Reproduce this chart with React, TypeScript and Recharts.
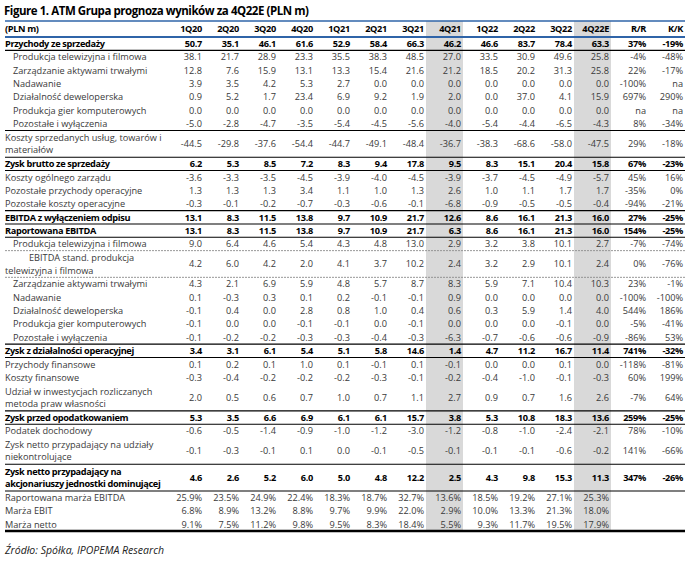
import React from 'react';
import { ScatterChart, XAxis, YAxis, Scatter, ReferenceArea, ReferenceLine } from 'recharts';

// ---------- DATA ----------
const columns = ['1Q20', '2Q20', '3Q20', '4Q20', '1Q21', '2Q21', '3Q21', '4Q21', '1Q22', '2Q22', '3Q22', '4Q22E', 'R/R', 'K/K'];
const highlightColumns = ['4Q21', '4Q22E'];
const quarterCount = 12;

// 12 quarterly values (PLN m), then R/R and K/K changes in % (null = "na")
const przychody = [50.7, 35.1, 46.1, 61.6, 52.9, 58.4, 66.3, 46.2, 46.6, 83.7, 78.4, 63.3, 37, -19];
const revProdukcja = [38.1, 21.7, 28.9, 23.3, 35.5, 38.3, 48.5, 27.0, 33.5, 30.9, 49.6, 25.8, -4, -48];
const revZarzadzanie = [12.8, 7.6, 15.9, 13.1, 13.3, 15.4, 21.6, 21.2, 18.5, 20.2, 31.3, 25.8, 22, -17];
const revNadawanie = [3.9, 3.5, 4.2, 5.3, 2.7, 0.0, 0.0, 0.0, 0.0, 0.0, 0.0, 0.0, -100, null];
const revDeweloperska = [0.9, 5.2, 1.7, 23.4, 6.9, 9.2, 1.9, 2.0, 0.0, 37.0, 4.1, 15.9, 697, 290];
const revGry = [0.0, 0.0, 0.0, 0.0, 0.0, 0.0, 0.0, 0.0, 0.0, 0.0, 0.0, 0.0, null, null];
const revPozostale = [-5.0, -2.8, -4.7, -3.5, -5.4, -4.5, -5.6, -4.0, -5.4, -4.4, -6.5, -4.3, 8, -34];
const kosztySprzedanych = [-44.5, -29.8, -37.6, -54.4, -44.7, -49.1, -48.4, -36.7, -38.3, -68.6, -58.0, -47.5, 29, -18];
const zyskBrutto = [6.2, 5.3, 8.5, 7.2, 8.3, 9.4, 17.8, 9.5, 8.3, 15.1, 20.4, 15.8, 67, -23];
const kosztyZarzadu = [-3.6, -3.3, -3.5, -4.5, -3.9, -4.0, -4.5, -3.9, -3.7, -4.5, -4.9, -5.7, 45, 16];
const pozPrzychodyOp = [1.3, 1.3, 1.3, 3.4, 1.1, 1.0, 1.3, 2.6, 1.0, 1.1, 1.7, 1.7, -35, 0];
const pozKosztyOp = [-0.3, -0.1, -0.2, -0.7, -0.3, -0.6, -0.1, -6.8, -0.9, -0.5, -0.5, -0.4, -94, -21];
const ebitdaBezOdpisu = [13.1, 8.3, 11.5, 13.8, 9.7, 10.9, 21.7, 12.6, 8.6, 16.1, 21.3, 16.0, 27, -25];
const ebitdaRaportowana = [13.1, 8.3, 11.5, 13.8, 9.7, 10.9, 21.7, 6.3, 8.6, 16.1, 21.3, 16.0, 154, -25];
const ebitdaProdukcja = [9.0, 6.4, 4.6, 5.4, 4.3, 4.8, 13.0, 2.9, 3.2, 3.8, 10.1, 2.7, -7, -74];
const ebitdaStand = [4.2, 6.0, 4.2, 2.0, 4.1, 3.7, 10.2, 2.4, 3.2, 2.9, 10.1, 2.4, 0, -76];
const ebitdaZarzadzanie = [4.3, 2.1, 6.9, 5.9, 4.8, 5.7, 8.7, 8.3, 5.9, 7.1, 10.4, 10.3, 23, -1];
const ebitdaNadawanie = [0.1, -0.3, 0.3, 0.1, 0.2, -0.1, -0.1, 0.9, 0.0, 0.0, 0.0, 0.0, -100, -100];
const ebitdaDeweloperska = [-0.1, 0.4, 0.0, 2.8, 0.8, 1.0, 0.4, 0.6, 0.3, 5.9, 1.4, 4.0, 544, 186];
const ebitdaGry = [-0.1, 0.0, 0.0, -0.1, -0.1, 0.0, -0.1, 0.0, 0.0, 0.0, -0.1, 0.0, -5, -41];
const ebitdaPozostale = [-0.1, -0.2, -0.2, -0.3, -0.3, -0.4, -0.3, -6.3, -0.7, -0.6, -0.6, -0.9, -86, 53];
const ebit = [3.4, 3.1, 6.1, 5.4, 5.1, 5.8, 14.6, 1.4, 4.7, 11.2, 16.7, 11.4, 741, -32];
const przychodyFin = [0.1, 0.2, 0.1, 1.0, 0.1, -0.1, 0.1, -0.1, 0.0, 0.0, 0.1, 0.0, -118, -81];
const kosztyFin = [-0.3, -0.4, -0.2, -0.2, -0.2, -0.3, -0.1, -0.2, -0.4, -1.0, -0.1, -0.3, 60, 199];
const udzial = [2.0, 0.5, 0.6, 0.7, 1.0, 0.7, 1.1, 2.7, 0.9, 0.7, 1.6, 2.6, -7, 64];
const zyskPrzed = [5.3, 3.5, 6.6, 6.9, 6.1, 6.1, 15.7, 3.8, 5.3, 10.8, 18.3, 13.6, 259, -25];
const podatek = [-0.6, -0.5, -1.4, -0.9, -1.0, -1.2, -3.0, -1.2, -0.8, -1.0, -2.4, -2.1, 78, -10];
const niekontrolujace = [-0.1, -0.3, -0.1, 0.1, 0.0, -0.1, -0.5, -0.1, -0.1, -0.1, -0.6, -0.2, 141, -66];
const zyskNetto = [4.6, 2.6, 5.2, 6.0, 5.0, 4.8, 12.2, 2.5, 4.3, 9.8, 15.3, 11.3, 347, -26];
// margins, %
const marzaEbitda = [25.9, 23.5, 24.9, 22.4, 18.3, 18.7, 32.7, 13.6, 18.5, 19.2, 27.1, 25.3];
const marzaEbit = [6.8, 8.9, 13.2, 8.8, 9.7, 9.9, 22.0, 2.9, 10.0, 13.3, 21.3, 18.0];
const marzaNetto = [9.1, 7.5, 11.2, 9.8, 9.5, 8.3, 18.4, 5.5, 9.3, 11.7, 19.5, 17.9];

const headerLabel = '(PLN m)';
const titleText = 'Figure 1. ATM Grupa prognoza wyników za 4Q22E (PLN m)';
const sourceText = 'Źródło: Spółka, IPOPEMA Research';

type Row = {
  label: string[];
  values: (number | null)[];
  bold?: boolean;
  indent?: number;
  firstIndent?: number;
  pct?: boolean;
  ruleAbove?: boolean;
  dashBelow?: boolean;
};

const rows: Row[] = [
  { label: ['Przychody ze sprzedaży'], values: przychody, bold: true },
  { label: ['Produkcja telewizyjna i filmowa'], values: revProdukcja, indent: 1 },
  { label: ['Zarządzanie aktywami trwałymi'], values: revZarzadzanie, indent: 1 },
  { label: ['Nadawanie'], values: revNadawanie, indent: 1 },
  { label: ['Działalność deweloperska'], values: revDeweloperska, indent: 1 },
  { label: ['Produkcja gier komputerowych'], values: revGry, indent: 1 },
  { label: ['Pozostałe i wyłączenia'], values: revPozostale, indent: 1 },
  { label: ['Koszty sprzedanych usług, towarów i', 'materiałów'], values: kosztySprzedanych, ruleAbove: true },
  { label: ['Zysk brutto ze sprzedaży'], values: zyskBrutto, bold: true },
  { label: ['Koszty ogólnego zarządu'], values: kosztyZarzadu },
  { label: ['Pozostałe przychody operacyjne'], values: pozPrzychodyOp },
  { label: ['Pozostałe koszty operacyjne'], values: pozKosztyOp },
  { label: ['EBITDA z wyłączeniem odpisu'], values: ebitdaBezOdpisu, bold: true },
  { label: ['Raportowana EBITDA'], values: ebitdaRaportowana, bold: true },
  { label: ['Produkcja telewizyjna i filmowa'], values: ebitdaProdukcja, indent: 1, dashBelow: true },
  { label: ['EBITDA stand. produkcja', 'telewizyjna i filmowa'], values: ebitdaStand, firstIndent: 3, dashBelow: true },
  { label: ['Zarządzanie aktywami trwałymi'], values: ebitdaZarzadzanie, indent: 1 },
  { label: ['Nadawanie'], values: ebitdaNadawanie, indent: 1 },
  { label: ['Działalność deweloperska'], values: ebitdaDeweloperska, indent: 1 },
  { label: ['Produkcja gier komputerowych'], values: ebitdaGry, indent: 1 },
  { label: ['Pozostałe i wyłączenia'], values: ebitdaPozostale, indent: 1 },
  { label: ['Zysk z działalności operacyjnej'], values: ebit, bold: true },
  { label: ['Przychody finansowe'], values: przychodyFin },
  { label: ['Koszty finansowe'], values: kosztyFin },
  { label: ['Udział w inwestycjach rozliczanych', 'metoda praw własności'], values: udzial },
  { label: ['Zysk przed opodatkowaniem'], values: zyskPrzed, bold: true },
  { label: ['Podatek dochodowy'], values: podatek },
  { label: ['Zysk netto przypadający na udziały', 'niekontrolujące'], values: niekontrolujace },
  { label: ['Zysk netto przypadający na', 'akcjonariuszy jednostki dominującej'], values: zyskNetto, bold: true },
  { label: ['Raportowana marża EBITDA'], values: marzaEbitda, pct: true },
  { label: ['Marża EBIT'], values: marzaEbit, pct: true },
  { label: ['Marża netto'], values: marzaNetto, pct: true },
];

// ---------- LAYOUT ----------
const W = 691;
const H = 561;
const FONT = "'Open Sans', sans-serif";
const FS = 9.2;
const LEFT = 5;
const INDENT = 8;
const HEADER_UNITS = 1.2;
const LINE_GAP = 12.3;
const BLUE = '#2F64A8';
const SHADE = '#D9D9D9';
const TEXT = '#3A3A3A';

let acc = HEADER_UNITS;
const layout = rows.map((r) => {
  const top = acc;
  acc += r.label.length;
  return { ...r, top, bottom: acc, center: top + r.label.length / 2 };
});
const TOTAL = acc;

const key = (v: number) => v.toFixed(3);
const labelByCenter = new Map<string, { lines: string[]; bold: boolean; indent: number; firstIndent: number }>();
labelByCenter.set(key(HEADER_UNITS / 2), { lines: [headerLabel], bold: true, indent: 0, firstIndent: 0 });
layout.forEach((r) =>
  labelByCenter.set(key(r.center), {
    lines: r.label,
    bold: !!r.bold,
    indent: r.indent ?? 0,
    firstIndent: r.firstIndent ?? r.indent ?? 0,
  })
);
const yTicks = [HEADER_UNITS / 2, ...layout.map((r) => r.center)];

const fmt = (r: Row, ci: number): string => {
  const v = r.values[ci];
  if (ci < quarterCount) {
    if (v === undefined || v === null) return '';
    return r.pct ? `${v.toFixed(1)}%` : v.toFixed(1);
  }
  if (r.pct) return '';
  if (v === null || v === undefined) return 'na';
  return `${Math.round(v)}%`;
};

const cellSeries = columns.map((col, ci) =>
  [
    { x: ci + 1, y: HEADER_UNITS / 2, text: col, bold: true },
    ...layout.map((r) => ({ x: ci + 1, y: r.center, text: fmt(r, ci), bold: !!r.bold })),
  ].filter((d) => d.text !== '')
);

// horizontal rules
type Rule = { y: number; stroke: string; width: number; dash?: string };
const rules: Rule[] = [
  { y: 0, stroke: BLUE, width: 1.3 },
  { y: HEADER_UNITS, stroke: BLUE, width: 2 },
];
layout.forEach((r) => {
  if (r.bold) {
    rules.push({ y: r.top, stroke: '#000', width: 1.1 });
    rules.push({ y: r.bottom, stroke: '#000', width: 1.1 });
  }
  if (r.ruleAbove) rules.push({ y: r.top, stroke: '#000', width: 1.1 });
  if (r.dashBelow) rules.push({ y: r.bottom, stroke: '#8C8C8C', width: 0.9, dash: '2 1' });
});
rules.push({ y: TOTAL, stroke: '#000', width: 2.4 });
const uniqueRules = rules.filter((r, i) => rules.findIndex((q) => key(q.y) === key(r.y)) === i);

const CellText = (p: any) => {
  const d = p.payload;
  return (
    <text
      x={p.cx - 2}
      y={p.cy + 3.4}
      textAnchor="end"
      fontFamily={FONT}
      fontSize={FS}
      fontWeight={d.bold ? 700 : 400}
      letterSpacing={d.bold ? -0.3 : 0}
      fill={d.bold ? '#000' : TEXT}
    >
      {d.text}
    </text>
  );
};

const LabelTick = (p: any) => {
  const info = labelByCenter.get(key(p.payload.value));
  if (!info) return null;
  const n = info.lines.length;
  return (
    <g>
      {info.lines.map((ln, i) => (
        <text
          key={i}
          x={LEFT + (i === 0 ? info.firstIndent : info.indent) * INDENT}
          y={p.y + 3.4 + (i - (n - 1) / 2) * LINE_GAP}
          textAnchor="start"
          fontFamily={FONT}
          fontSize={FS}
          fontWeight={info.bold ? 700 : 400}
          letterSpacing={info.bold ? -0.35 : 0}
          fill={info.bold ? '#000' : TEXT}
        >
          {ln}
        </text>
      ))}
    </g>
  );
};

export default function App() {
  return (
    <div style={{ position: 'absolute', left: 0, top: 0, width: W, height: H, background: '#fff', overflow: 'hidden' }}>
      <div
        style={{
          position: 'absolute',
          left: 4,
          top: 3,
          fontFamily: FONT,
          fontWeight: 700,
          fontSize: 11.5,
          lineHeight: '16px',
          letterSpacing: -0.45,
          color: '#000',
          whiteSpace: 'nowrap',
        }}
      >
        {titleText}
      </div>
      <ScatterChart width={W} height={H} margin={{ top: 21, right: 6, bottom: 30, left: 0 }}>
        <XAxis type="number" dataKey="x" domain={[0, columns.length]} hide allowDataOverflow />
        <YAxis
          type="number"
          dataKey="y"
          domain={[0, TOTAL]}
          reversed
          allowDataOverflow
          width={167}
          ticks={yTicks}
          interval={0}
          axisLine={false}
          tickLine={false}
          tick={LabelTick}
        />
        {highlightColumns.map((c) => {
          const ci = columns.indexOf(c);
          return (
            <ReferenceArea
              key={c}
              x1={ci}
              x2={ci + 1}
              y1={0}
              y2={TOTAL}
              fill={SHADE}
              fillOpacity={1}
              stroke="none"
              ifOverflow="visible"
            />
          );
        })}
        {uniqueRules.map((r, i) => (
          <ReferenceLine
            key={`rule-${i}`}
            y={r.y}
            ifOverflow="visible"
            shape={(p: any) => (
              <line
                x1={LEFT}
                x2={p.x2}
                y1={p.y1}
                y2={p.y2}
                stroke={r.stroke}
                strokeWidth={r.width}
                strokeDasharray={r.dash}
              />
            )}
          />
        ))}
        {cellSeries.map((data, ci) => (
          <Scatter
            key={columns[ci]}
            name={columns[ci]}
            data={data}
            shape={CellText}
            isAnimationActive={false}
          />
        ))}
      </ScatterChart>
      <div
        style={{
          position: 'absolute',
          left: 5,
          top: 542,
          fontFamily: FONT,
          fontStyle: 'italic',
          fontSize: 10.5,
          lineHeight: '16px',
          color: '#222',
          whiteSpace: 'nowrap',
        }}
      >
        {sourceText}
      </div>
    </div>
  );
}
